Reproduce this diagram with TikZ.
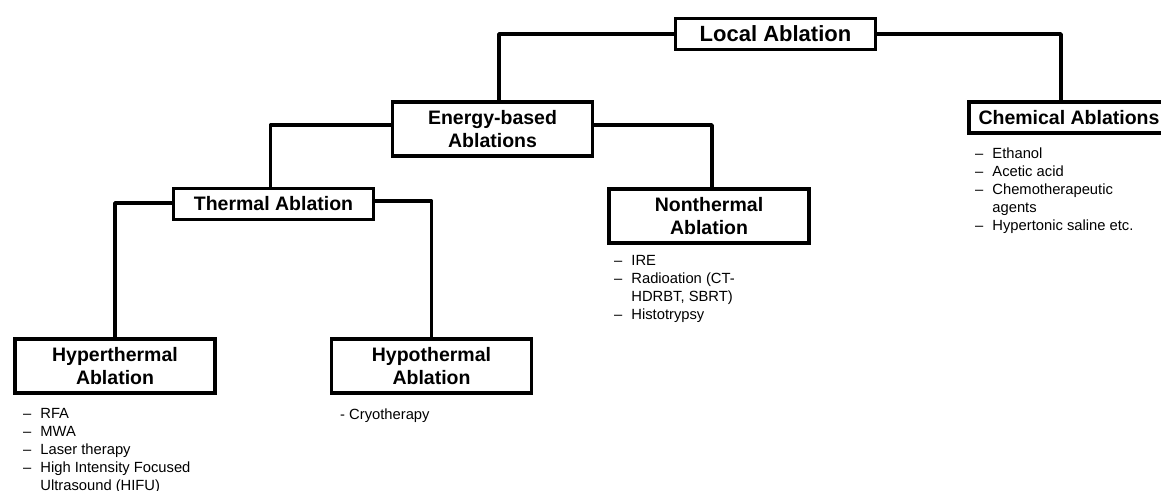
\documentclass[tikz,border=0pt]{standalone}
\usepackage{fontspec}
\setmainfont{Liberation Sans}

\tikzset{
  box/.style={draw, line width=3.5pt, align=center, minimum width=200pt, inner sep=2pt,
    font=\bfseries\fontsize{19.5}{23}\selectfont},
  onebox/.style={box, minimum height=31pt},
  twobox/.style={box, minimum height=54pt},
  itemlist/.style={anchor=base west, inner sep=0pt, font=\fontsize{14.75}{18}\selectfont},
  link/.style={line width=3.5pt, line join=round}
}

\begin{document}
\begin{tikzpicture}[x=1pt, y=-1pt]
      \clip (0,0) rectangle (1161,490);
%      \draw [help lines] (0,0) grid [step=50] (1161,490);
      \node [onebox, font=\bfseries\fontsize{22}{25}\selectfont] (local) at (775.5,34) {Local Ablation};
      \node [twobox] (energy) at (492.5,129) {Energy-based\\Ablations};
      \node [onebox] (chem) at (1069,117.5) {Chemical Ablations};
      \node [onebox] (thermal) at (273.5,204) {Thermal Ablation};
      \node [twobox] (nonthermal) at (709,216) {Nonthermal\\Ablation};
      \node [twobox] (hyper) at (115,366) {Hyperthermal\\Ablation};
      \node [twobox] (hypo) at (431.5,366) {Hypothermal\\Ablation};
      % links
      \draw [link] (local.west) -| ([xshift=6.5]energy.north);
      \draw [link] (local.east) -| ([xshift=-8]chem.north);
      \draw [link] ([yshift=4]energy.west) -| ([xshift=-3]thermal.north);
      \draw [link] ([yshift=4]energy.east) -| ([xshift=3]nonthermal.north);
      \draw [link] ([yshift=1]thermal.west) -| (hyper.north);
      \draw [link] ([yshift=3]thermal.east) -| (hypo.north);
      % lists
      \node [itemlist] (hyperlist) at (23,418) {\begin{tabular}[t]{@{}l@{\hspace{9pt}}l@{}}
        – & RFA\\ – & MWA\\ – & Laser therapy\\ – & High Intensity Focused\\ & Ultrasound (HIFU)
        \end{tabular}};
      \node [itemlist] (hypolist) at (340,419) {- Cryotherapy};
      \node [itemlist] (nonlist) at (614,265) {\begin{tabular}[t]{@{}l@{\hspace{9pt}}l@{}}
        – & IRE\\ – & Radioation (CT-\\ & HDRBT, SBRT)\\ – & Histotrypsy
        \end{tabular}};
      \node [itemlist] (chemlist) at (975,158) {\begin{tabular}[t]{@{}l@{\hspace{9pt}}l@{}}
        – & Ethanol\\ – & Acetic acid\\ – & Chemotherapeutic\\ & agents\\ – & Hypertonic saline etc.
        \end{tabular}};
    \end{tikzpicture}
\end{document}
